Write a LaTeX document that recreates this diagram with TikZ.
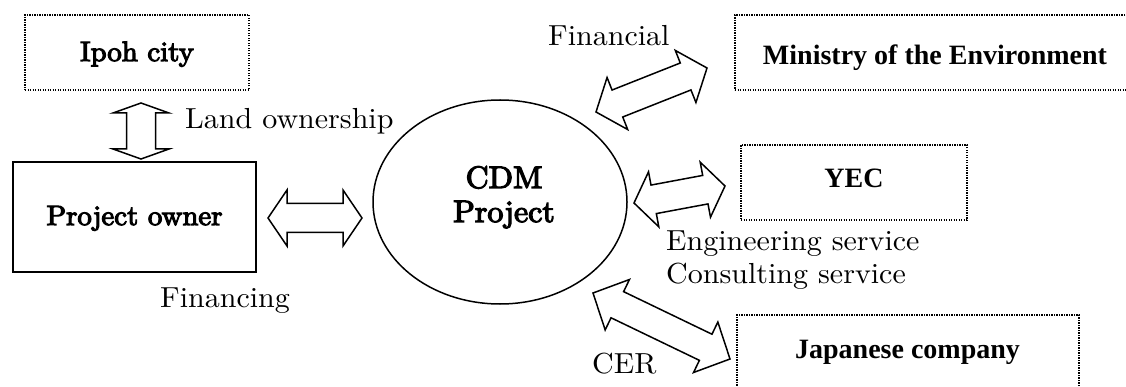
\documentclass[tikz,border=0pt]{standalone}
\usepackage{fontspec}
\newfontfamily\tnr{Liberation Serif}
\newfontfamily\cent[Extension=.otf, FakeStretch=1.035]{lmroman10-regular}
\newfontfamily\centb[Extension=.otf, FakeStretch=1.03, FakeBold=4]{lmroman10-regular}
\usetikzlibrary{calc,shapes.geometric}
\tikzset{
  dotbox/.style={draw, line width=1.4pt, dash pattern=on 1.2pt off 1.3pt, inner sep=0pt},
  solidbox/.style={draw, line width=1.6pt, inner sep=0pt},
  lbl/.style={font=\cent\fontsize{29}{32}\selectfont, inner sep=0pt, anchor=base west},
  cbold/.style={font=\centb\fontsize{28}{32}\selectfont, inner sep=0pt, anchor=base},
  cbig/.style={font=\centb\fontsize{31}{34}\selectfont, inner sep=0pt, anchor=base},
  tbold/.style={font=\tnr\fontsize{28}{32}\selectfont\bfseries, inner sep=0pt, anchor=base},
  blk/.style={draw, line width=1.5pt, fill=white, line join=miter},
}
\newcommand\blockarrow[3]{%
  \coordinate (ha) at ($(#1)!#3!(#2)$);
  \coordinate (hb) at ($(#2)!#3!(#1)$);
  \draw[blk] (#1) -- ($(ha)!28pt!90:(#2)$) -- ($(ha)!14.5pt!90:(#2)$)
    -- ($(hb)!14.5pt!-90:(#1)$) -- ($(hb)!28pt!-90:(#1)$) -- (#2)
    -- ($(hb)!28pt!90:(#1)$) -- ($(hb)!14.5pt!90:(#1)$)
    -- ($(ha)!14.5pt!-90:(#2)$) -- ($(ha)!28pt!-90:(#2)$) -- cycle;}
\begin{document}
\begin{tikzpicture}[x=1pt,y=-1pt]
\useasboundingbox (0,0) rectangle (1126,387);
\clip (0,0) rectangle (1126,387);
% boxes
\node[dotbox, minimum width=224pt, minimum height=75pt] (ipoh) at (137,52.5) {};
\node[solidbox, minimum width=243pt, minimum height=110pt] (owner) at (134.5,217) {};
\node[dotbox, minimum width=410pt, minimum height=75pt] (moe) at (940,52.5) {};
\node[dotbox, minimum width=226pt, minimum height=75pt] (yec) at (854,182.5) {};
\node[dotbox, minimum width=342pt, minimum height=84pt] (jap) at (908,357) {};
\node[ellipse, draw, line width=1.5pt, minimum width=254pt, minimum height=204pt, inner sep=0pt] (cdm) at (500,202) {};
% box texts
\node[cbold] (tipoh) at (137,61) {Ipoh city};
\node[cbold] (towner) at (134.5,225) {Project owner};
\node[cbig] (tcdm1) at (504,188) {CDM};
\node[cbig] (tcdm2) at (504,222) {Project};
\node[tbold] (tmoe) at (935,65) {Ministry of the Environment};
\node[tbold] (tyec) at (854,188) {YEC};
\node[tbold] (tjap) at (907.5,358) {Japanese company};
% arrow tips
\coordinate (v1) at (141,103);
\coordinate (v2) at (141,159);
\coordinate (h1) at (268,218);
\coordinate (h2) at (362,218);
\coordinate (f1) at (596,112);
\coordinate (f2) at (707,68);
\coordinate (y1) at (634,203);
\coordinate (y2) at (725,186);
\coordinate (c1) at (593,293);
\coordinate (c2) at (730,359);
\blockarrow{v1}{v2}{10pt}
\blockarrow{h1}{h2}{19pt}
\blockarrow{f1}{f2}{23pt}
\blockarrow{y1}{y2}{20pt}
\blockarrow{c1}{c2}{27pt}
% labels
\node[lbl] (lland) at (185,129) {Land ownership};
\node[lbl] (lfin) at (160,307) {Financing};
\node[lbl] (lfinl) at (548,46) {Financial};
\node[lbl] (leng) at (666,251) {Engineering service};
\node[lbl] (lcon) at (666,283) {Consulting service};
\node[lbl] (lcer) at (592,373) {CER};
\end{tikzpicture}
\end{document}
